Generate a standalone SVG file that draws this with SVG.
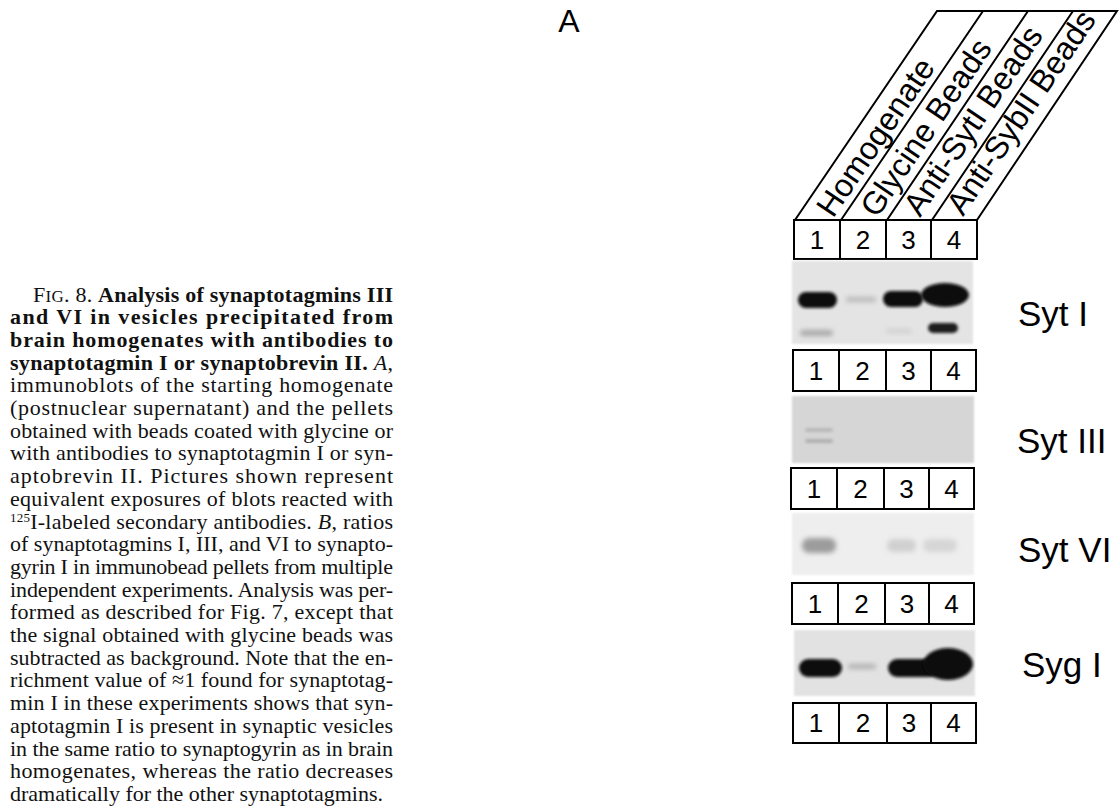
<svg xmlns="http://www.w3.org/2000/svg" width="1119" height="807" viewBox="0 0 1119 807">
<style>
.cap{font-family:"Liberation Serif","Times New Roman",serif;font-size:22px;fill:#111}
.b{font-weight:bold}
.i{font-style:italic}
.hdr{font-family:"Liberation Sans",Arial,sans-serif;font-size:32px;fill:#000}
.num{font-family:"Liberation Sans",Arial,sans-serif;font-size:26px;fill:#000;text-anchor:middle}
.lbl{font-family:"Liberation Sans",Arial,sans-serif;font-size:35px;fill:#000}
.box{fill:#fff;stroke:#000;stroke-width:2}
.ln{stroke:#000;stroke-width:2;fill:none}
</style>
<defs>
<filter id="f1" x="-50%" y="-100%" width="200%" height="300%"><feGaussianBlur stdDeviation="1.5"/></filter>
<filter id="f2" x="-50%" y="-100%" width="200%" height="300%"><feGaussianBlur stdDeviation="2.5"/></filter>
<filter id="f0" x="-5%" y="-5%" width="110%" height="110%"><feGaussianBlur stdDeviation="0.8"/></filter>
</defs>
<rect width="1119" height="807" fill="#fff"/>

<g id="caption">
<text class="cap" x="33" y="301.5" textLength="360" lengthAdjust="spacing">F<tspan font-size="17">IG</tspan>. 8. <tspan class="b">Analysis of synaptotagmins III</tspan></text>
<text class="cap b" x="10" y="324.2" textLength="383" lengthAdjust="spacing">and VI in vesicles precipitated from</text>
<text class="cap b" x="10" y="346.9" textLength="383" lengthAdjust="spacing">brain homogenates with antibodies to</text>
<text class="cap" x="10" y="369.6" textLength="383" lengthAdjust="spacing"><tspan class="b">synaptotagmin I or synaptobrevin II.</tspan> <tspan class="i">A</tspan>,</text>
<text class="cap" x="10" y="392.3" textLength="383" lengthAdjust="spacing">immunoblots of the starting homogenate</text>
<text class="cap" x="10" y="415" textLength="383" lengthAdjust="spacing">(postnuclear supernatant) and the pellets</text>
<text class="cap" x="10" y="437.7" textLength="383" lengthAdjust="spacing">obtained with beads coated with glycine or</text>
<text class="cap" x="10" y="460.4" textLength="383" lengthAdjust="spacing">with antibodies to synaptotagmin I or syn-</text>
<text class="cap" x="10" y="483.1" textLength="383" lengthAdjust="spacing">aptobrevin II. Pictures shown represent</text>
<text class="cap" x="10" y="505.8" textLength="383" lengthAdjust="spacing">equivalent exposures of blots reacted with</text>
<text class="cap" x="10" y="528.5" textLength="383" lengthAdjust="spacing"><tspan font-size="13" dy="-7">125</tspan><tspan dy="7">I-labeled secondary antibodies. </tspan><tspan class="i">B</tspan>, ratios</text>
<text class="cap" x="10" y="551.2" textLength="383" lengthAdjust="spacing">of synaptotagmins I, III, and VI to synapto-</text>
<text class="cap" x="10" y="573.9" textLength="383" lengthAdjust="spacing">gyrin I in immunobead pellets from multiple</text>
<text class="cap" x="10" y="596.6" textLength="383" lengthAdjust="spacing">independent experiments. Analysis was per-</text>
<text class="cap" x="10" y="619.3" textLength="383" lengthAdjust="spacing">formed as described for Fig. 7, except that</text>
<text class="cap" x="10" y="642" textLength="383" lengthAdjust="spacing">the signal obtained with glycine beads was</text>
<text class="cap" x="10" y="664.7" textLength="383" lengthAdjust="spacing">subtracted as background. Note that the en-</text>
<text class="cap" x="10" y="687.4" textLength="383" lengthAdjust="spacing">richment value of ≈1 found for synaptotag-</text>
<text class="cap" x="10" y="710.1" textLength="383" lengthAdjust="spacing">min I in these experiments shows that syn-</text>
<text class="cap" x="10" y="732.8" textLength="383" lengthAdjust="spacing">aptotagmin I is present in synaptic vesicles</text>
<text class="cap" x="10" y="755.5" textLength="383" lengthAdjust="spacing">in the same ratio to synaptogyrin as in brain</text>
<text class="cap" x="10" y="778.2" textLength="383" lengthAdjust="spacing">homogenates, whereas the ratio decreases</text>
<text class="cap" x="10" y="800.9" textLength="373" lengthAdjust="spacing">dramatically for the other synaptotagmins.</text>
</g>

<g id="panel-label">
<text x="569" y="32" font-family="Liberation Sans, Arial, sans-serif" font-size="32" text-anchor="middle">A</text>
</g>

<g id="header">
<path class="ln" d="M795,220 L937,11 L1117,11 L977,220"/>
<path class="ln" d="M841,220 L983,11 M887,220 L1028,11 M932,220 L1073,11"/>
<text class="hdr" transform="translate(833,219) rotate(-55.8)">Homogenate</text>
<text class="hdr" transform="translate(877,219) rotate(-55.8)">Glycine Beads</text>
<text class="hdr" transform="translate(920,218) rotate(-55.8)">Anti-SytI Beads</text>
<text class="hdr" transform="translate(963,217) rotate(-55.8)">Anti-SybII Beads</text>
</g>

<g id="lanes-1">
<rect class="box" x="794" y="220" width="183" height="39"/>
<path class="ln" d="M840,220V259M886,220V259M931,220V259"/>
<text class="num" x="817" y="249">1</text><text class="num" x="863" y="249">2</text><text class="num" x="908.5" y="249">3</text><text class="num" x="954" y="249">4</text>
</g>

<g id="blot-sytI">
<rect x="792" y="261" width="181" height="83" fill="#e4e4e4" filter="url(#f0)"/>
<rect x="798" y="292" width="39" height="16" rx="8" fill="#111" filter="url(#f1)"/>
<rect x="846" y="297" width="30" height="5" rx="2" fill="#b8b8b8" filter="url(#f2)"/>
<rect x="883" y="291" width="40" height="16" rx="8" fill="#111" filter="url(#f1)"/>
<ellipse cx="945" cy="295" rx="24" ry="12" fill="#0a0a0a" filter="url(#f1)"/>
<rect x="800" y="330" width="33" height="6" rx="3" fill="#a8a8a8" filter="url(#f2)"/>
<rect x="886" y="329" width="26" height="4" rx="2" fill="#cdcdcd" filter="url(#f2)"/>
<rect x="928" y="323" width="30" height="10" rx="5" fill="#1e1e1e" filter="url(#f1)"/>
</g>
<g id="label-sytI"><text class="lbl" x="1018" y="326">Syt I</text></g>

<g id="lanes-2">
<rect class="box" x="793" y="350" width="183" height="41"/>
<path class="ln" d="M839,350V391M886,350V391M931,350V391"/>
<text class="num" x="816" y="380">1</text><text class="num" x="862.5" y="380">2</text><text class="num" x="908.5" y="380">3</text><text class="num" x="953.5" y="380">4</text>
</g>

<g id="blot-sytIII">
<rect x="792" y="396" width="182" height="67" fill="#d6d6d6" filter="url(#f0)"/>
<rect x="805" y="428" width="28" height="4" rx="2" fill="#b8b8b8" filter="url(#f1)"/>
<rect x="805" y="439" width="28" height="4" rx="2" fill="#b0b0b0" filter="url(#f1)"/>
</g>
<g id="label-sytIII"><text class="lbl" x="1017" y="453">Syt III</text></g>

<g id="lanes-3">
<rect class="box" x="791" y="468" width="183" height="41"/>
<path class="ln" d="M837,468V509M884,468V509M929,468V509"/>
<text class="num" x="814" y="498">1</text><text class="num" x="860.5" y="498">2</text><text class="num" x="906.5" y="498">3</text><text class="num" x="951.5" y="498">4</text>
</g>

<g id="blot-sytVI">
<rect x="792" y="513" width="182" height="62" fill="#eeeeee" filter="url(#f0)"/>
<rect x="802" y="538" width="34" height="15" rx="7" fill="#9c9c9c" filter="url(#f2)"/>
<rect x="887" y="539" width="29" height="13" rx="6" fill="#d0d0d0" filter="url(#f2)"/>
<rect x="923" y="539" width="34" height="13" rx="6" fill="#d6d6d6" filter="url(#f2)"/>
</g>
<g id="label-sytVI"><text class="lbl" x="1018" y="562">Syt VI</text></g>

<g id="lanes-4">
<rect class="box" x="792" y="583" width="182" height="41"/>
<path class="ln" d="M838,583V624M885,583V624M929,583V624"/>
<text class="num" x="815" y="613">1</text><text class="num" x="861.5" y="613">2</text><text class="num" x="907" y="613">3</text><text class="num" x="951.5" y="613">4</text>
</g>

<g id="blot-sygI">
<rect x="794" y="630" width="181" height="66" fill="#e2e2e2" filter="url(#f0)"/>
<rect x="799" y="659" width="43" height="18" rx="9" fill="#111" filter="url(#f1)"/>
<rect x="848" y="664" width="28" height="5" rx="2" fill="#b0b0b0" filter="url(#f2)"/>
<rect x="888" y="659" width="50" height="18" rx="9" fill="#111" filter="url(#f1)"/>
<ellipse cx="948" cy="664" rx="25" ry="16" fill="#0a0a0a" filter="url(#f1)"/>
</g>
<g id="label-sygI"><text class="lbl" x="1022" y="677">Syg I</text></g>

<g id="lanes-5">
<rect class="box" x="793" y="703" width="183" height="40"/>
<path class="ln" d="M839,703V743M887,703V743M931,703V743"/>
<text class="num" x="816" y="732">1</text><text class="num" x="863" y="732">2</text><text class="num" x="909" y="732">3</text><text class="num" x="953.5" y="732">4</text>
</g>

<g id="connectors"></g>
</svg>
